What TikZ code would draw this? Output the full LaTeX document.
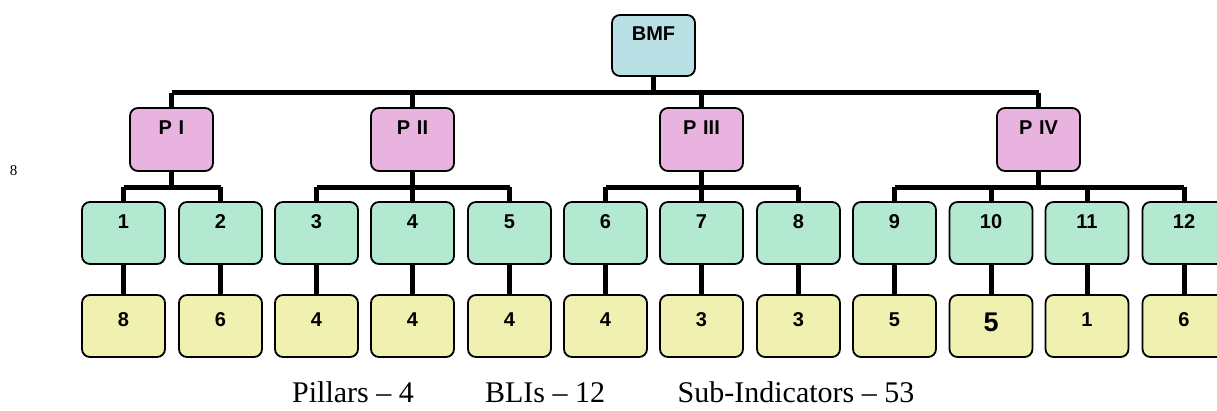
\documentclass[tikz,border=0pt]{standalone}
\usepackage{fontspec}
\setmainfont{Liberation Serif}
\setsansfont{Liberation Sans}
\definecolor{cbmf}{HTML}{B9E0E5}
\definecolor{cpil}{HTML}{E8B4DF}
\definecolor{cbli}{HTML}{B3E9D0}
\definecolor{csub}{HTML}{F0F0B0}
\tikzset{
  box/.style={draw, line width=1.8pt, rounded corners=8pt, minimum width=83pt,
    inner xsep=0pt, inner ysep=0pt, text width=83pt, align=center,
    font=\sffamily\bfseries\fontsize{20}{20}\selectfont},
  bmfbox/.style={box, fill=cbmf, text height=26pt, text depth=35pt},
  pilbox/.style={box, fill=cpil, text height=27pt, text depth=36pt},
  blibox/.style={box, fill=cbli, text height=27pt, text depth=35pt},
  subbox/.style={box, fill=csub, text height=32pt, text depth=30pt},
  conn/.style={line width=5pt},
  note/.style={font=\fontsize{30}{30}\selectfont, anchor=base},
}
\begin{document}
\begin{tikzpicture}[x=1pt,y=1pt]
\clip (0,0) rectangle (1217,411);
\fill[white] (0,0) rectangle (1217,411);
% nodes
\node[bmfbox] (bmf) at (653.5,365.5) {BMF};
\node[pilbox] (p1) at (171.5,271.5) {P\,\,I};
\node[pilbox] (p2) at (412.5,271.5) {P\,\,II};
\node[pilbox] (p3) at (701.5,271.5) {P\,\,III};
\node[pilbox] (p4) at (1038.5,271.5) {P\,\,IV};
\foreach \i/\x in {1/123.5,2/220.5,3/316.5,4/412.5,5/509.5,6/605.5,7/701.5,8/798.5,9/894.5,10/991,11/1087,12/1184}{
  \node[blibox] (b\i) at (\x,178) {\i};
}
\foreach \i/\x/\v in {1/123.5/8,2/220.5/6,3/316.5/4,4/412.5/4,5/509.5/4,6/605.5/4,7/701.5/3,8/798.5/3,9/894.5/5,11/1087/1,12/1184/6}{
  \node[subbox] (s\i) at (\x,85) {\v};
}
\node[subbox, text height=37pt, text depth=25pt, font=\sffamily\bfseries\fontsize{27}{27}\selectfont] (s10) at (991,85) {5};
% connectors
\coordinate (top) at (653.5,318);
\draw[conn] (bmf.south) -- (top);
\draw[conn] (p1.north |- top) -- (p4.north |- top);
\foreach \p in {p1,p2,p3,p4}{ \draw[conn] (\p.north |- top) -- (\p.north); }
\coordinate (g) at (0,223.5);
\foreach \p/\a/\b in {p1/b1/b2,p2/b3/b5,p3/b6/b8,p4/b9/b12}{
  \draw[conn] (\p.south) -- (\p.south |- g);
  \draw[conn] (\a.north |- g) -- (\b.north |- g);
}
\foreach \i in {1,...,12}{
  \draw[conn] (b\i.north |- g) -- (b\i.north);
  \draw[conn] (b\i.south) -- (s\i.north);
}
% texts
\node[font=\fontsize{15}{15}\selectfont] (eight) at (13.5,240) {8};
\node[note] (t1) at (353,8) {Pillars – 4};
\node[note] (t2) at (545,8) {BLIs – 12};
\node[note] (t3) at (796,8) {Sub-Indicators – 53};
\end{tikzpicture}
\end{document}
